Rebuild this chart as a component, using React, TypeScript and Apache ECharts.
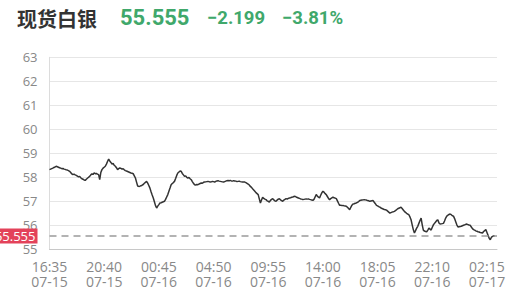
import React, { useEffect, useRef } from "react";
import * as echarts from "echarts";

const title = "现货白银";
const lastPrice = "55.555";
const change = "−2.199";
const changePct = "−3.81%";
const refPrice = 55.555;

const tickLabels = [
  "16:35\n07-15", "20:40\n07-15", "00:45\n07-16", "04:50\n07-16", "09:55\n07-16",
  "14:00\n07-16", "18:05\n07-16", "22:10\n07-16", "02:15\n07-17",
];
const slotsPerTick = 49;
const totalSlots = 401;
const yTicks = [55, 56, 57, 58, 59, 60, 61, 62, 63];

const prices = [
  58.32, 58.34, 58.36, 58.38, 58.41, 58.43, 58.46, 58.44, 58.42, 58.40,
  58.38, 58.36, 58.37, 58.34, 58.33, 58.31, 58.30, 58.28, 58.25, 58.20,
  58.14, 58.11, 58.13, 58.10, 58.08, 58.05, 58.02, 58.04, 57.98, 57.94,
  57.92, 57.89, 57.87, 57.92, 57.96, 58.00, 58.04, 58.10, 58.14, 58.12,
  58.18, 58.15, 58.16, 58.13, 58.11, 57.90, 58.20, 58.32, 58.38, 58.42,
  58.46, 58.55, 58.66, 58.76, 58.68, 58.62, 58.55, 58.58, 58.50, 58.46,
  58.40, 58.32, 58.36, 58.39, 58.37, 58.34, 58.36, 58.31, 58.28, 58.26,
  58.24, 58.22, 58.20, 58.18, 58.17, 58.15, 58.06, 57.97, 57.80, 57.64,
  57.62, 57.63, 57.65, 57.67, 57.70, 57.75, 57.79, 57.83, 57.76, 57.66,
  57.55, 57.40, 57.26, 57.14, 56.98, 56.82, 56.72, 56.80, 56.86, 56.93,
  56.94, 56.96, 56.98, 57.00, 57.08, 57.18, 57.28, 57.42, 57.55, 57.69,
  57.74, 57.78, 57.83, 57.95, 58.08, 58.18, 58.22, 58.26, 58.25, 58.16,
  58.10, 58.04, 58.06, 58.00, 57.97, 57.99, 57.94, 57.90, 57.82, 57.75,
  57.69, 57.68, 57.70, 57.69, 57.72, 57.74, 57.76, 57.75, 57.79, 57.80,
  57.81, 57.82, 57.83, 57.82, 57.80, 57.81, 57.83, 57.82, 57.80, 57.83,
  57.85, 57.86, 57.84, 57.83, 57.82, 57.81, 57.80, 57.82, 57.84, 57.86,
  57.87, 57.86, 57.87, 57.85, 57.84, 57.86, 57.85, 57.84, 57.82, 57.83,
  57.84, 57.82, 57.81, 57.80, 57.81, 57.80, 57.78, 57.75, 57.72, 57.68,
  57.62, 57.58, 57.52, 57.47, 57.42, 57.36, 57.32, 57.28, 57.10, 56.93,
  57.05, 57.17, 57.12, 57.09, 57.07, 57.02, 57.00, 56.97, 57.04, 57.08,
  57.11, 57.06, 57.02, 57.00, 57.05, 57.09, 57.11, 57.06, 57.03, 57.00,
  57.05, 57.08, 57.11, 57.09, 57.12, 57.14, 57.15, 57.17, 57.18, 57.20,
  57.21, 57.18, 57.16, 57.14, 57.12, 57.10, 57.09, 57.07, 57.08, 57.09,
  57.10, 57.09, 57.10, 57.08, 57.07, 57.05, 57.04, 57.08, 57.18, 57.28,
  57.22, 57.17, 57.14, 57.25, 57.35, 57.42, 57.38, 57.32, 57.28, 57.20,
  57.12, 57.07, 57.11, 57.14, 57.17, 57.15, 57.13, 57.11, 57.02, 56.92,
  56.83, 56.84, 56.82, 56.83, 56.81, 56.80, 56.79, 56.75, 56.70, 56.65,
  56.75, 56.84, 56.89, 56.90, 56.92, 56.93, 56.96, 56.99, 57.03, 57.04,
  57.05, 57.06, 57.07, 57.06, 57.05, 57.03, 57.02, 57.00, 57.01, 57.02,
  57.03, 56.96, 56.90, 56.83, 56.81, 56.78, 56.76, 56.72, 56.70, 56.68,
  56.66, 56.65, 56.63, 56.59, 56.55, 56.51, 56.53, 56.55, 56.56, 56.58,
  56.61, 56.65, 56.69, 56.71, 56.73, 56.75, 56.70, 56.64, 56.58, 56.54,
  56.50, 56.47, 56.44, 56.35, 56.23, 56.02, 55.82, 55.68, 55.78, 55.88,
  55.96, 56.08, 56.20, 56.30, 56.02, 55.80, 55.76, 55.74, 55.73, 55.80,
  55.88, 55.84, 55.80, 55.92, 56.02, 56.08, 56.14, 56.20, 56.23, 56.10,
  56.05, 56.06, 56.07, 56.08, 56.18, 56.30, 56.38, 56.42, 56.45, 56.47,
  56.44, 56.40, 56.38, 56.28, 56.15, 56.02, 55.93, 55.94, 55.95, 55.96,
  55.98, 56.00, 56.02, 56.04, 56.05, 56.03, 56.01, 56.00, 55.93, 55.86,
  55.82, 55.80, 55.77, 55.75, 55.73, 55.72, 55.70, 55.69, 55.68, 55.74,
  55.78, 55.82, 55.70, 55.58, 55.46, 55.40, 55.50, 55.54, 55.56, 55.555,
];

const GREEN = "#40a86b";

export default function App() {
  const ref = useRef<HTMLDivElement>(null);
  useEffect(() => {
    document.body.style.margin = "0";
    const chart = echarts.init(ref.current!, null, { renderer: "svg" });
    chart.setOption({
      animation: false,
      graphic: [
        {
          type: "text", left: 17, top: 8,
          style: { text: title, font: "bold 20px 'Noto Sans CJK SC'", fill: "#333" },
        },
        {
          type: "text", left: 120, top: 6,
          style: { text: lastPrice, font: "bold 22px Roboto", fill: GREEN },
        },
        {
          type: "text", left: 207, top: 8,
          style: { text: change, font: "bold 18.5px Roboto", fill: GREEN },
        },
        {
          type: "text", left: 282, top: 8,
          style: { text: changePct, font: "bold 18.5px Roboto", fill: GREEN },
        },
      ],
      grid: { left: 49.5, right: 14, top: 57.3, bottom: 47.7 },
      xAxis: {
        type: "value",
        min: 0,
        max: totalSlots,
        interval: slotsPerTick,
        axisLine: { show: true, lineStyle: { color: "#c8c8c8" } },
        axisTick: { show: false },
        splitLine: { show: false },
        axisLabel: {
          color: "#888",
          fontSize: 14,
          fontFamily: "Open Sans",
          lineHeight: 15,
          margin: 10,
          showMaxLabel: false,
          formatter: (v: number) =>
            v % slotsPerTick === 0 ? tickLabels[v / slotsPerTick] ?? "" : "",
        },
      },
      yAxis: {
        type: "value",
        min: yTicks[0],
        max: yTicks[yTicks.length - 1],
        interval: 1,
        axisLine: { show: true, lineStyle: { color: "#dcdcdc" } },
        axisTick: { show: false },
        splitLine: { show: true, lineStyle: { color: "#e6e6e6" } },
        axisLabel: { color: "#888", fontSize: 13, fontFamily: "Open Sans", margin: 12 },
      },
      series: [
        {
          type: "line",
          data: prices.map((p, i) => [i, p]),
          showSymbol: false,
          symbol: "none",
          lineStyle: { color: "#333", width: 1.5 },
          markLine: {
            silent: true,
            symbol: "none",
            lineStyle: { color: "#9a9a9a", type: [7, 5], width: 1.5 },
            label: {
              position: "start",
              distance: 12,
              formatter: lastPrice,
              color: "#fff",
              fontSize: 13,
              fontFamily: "Open Sans",
              backgroundColor: "#e3425a",
              padding: [1, 2, 1, 3],
            },
            data: [{ yAxis: refPrice }],
          },
        },
      ],
    });
    return () => chart.dispose();
  }, []);
  return <div ref={ref} style={{ width: 511, height: 297, position: "absolute", left: 0, top: 0 }} />;
}
